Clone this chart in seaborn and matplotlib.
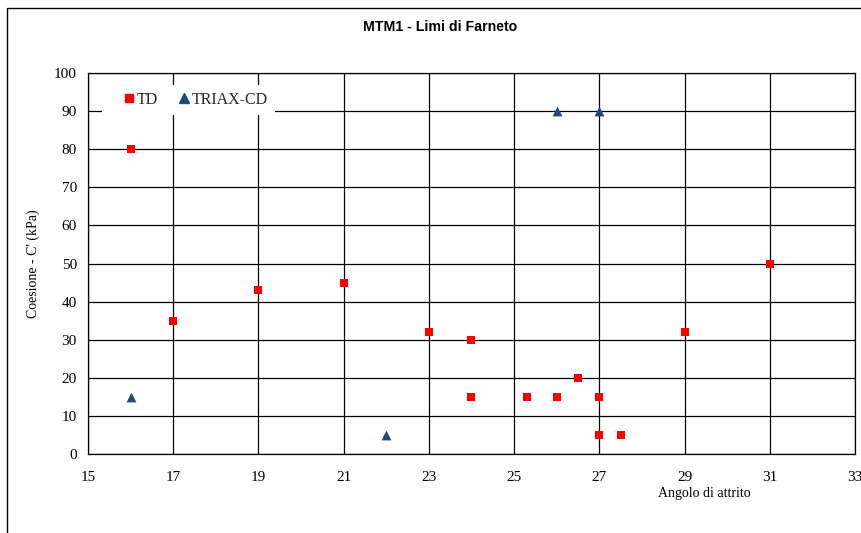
import matplotlib
matplotlib.use("Agg")
import matplotlib.pyplot as plt
import seaborn as sns
import pandas as pd
from matplotlib.patches import Rectangle
from matplotlib.lines import Line2D

# Data
td_x = [16, 17, 19, 21, 23, 24, 24, 25.3, 26, 26.5, 27, 27, 27.5, 29, 31]
td_y = [80, 35, 43, 45, 32, 30, 15, 15, 15, 20, 15, 5, 5, 32, 50]
triax_x = [16, 22, 26, 27]
triax_y = [15, 5, 90, 90]
x_ticks = list(range(15, 34, 2))
y_ticks = list(range(0, 101, 10))
title = "MTM1 - Limi di Farneto"
xlabel = "Angolo di attrito"
ylabel = "Coesione - C' (kPa)"

sns.set_theme(style="white")
plt.rcParams['font.family'] = ['Liberation Serif', 'DejaVu Serif']

W, H = 862, 533
fig = plt.figure(figsize=(W / 100, H / 100), dpi=100)
ax = fig.add_axes([88 / W, 1 - 454 / H, (855 - 88) / W, (454 - 73) / H])

df_td = pd.DataFrame({"x": td_x, "y": td_y})
df_tr = pd.DataFrame({"x": triax_x, "y": triax_y})
sns.scatterplot(data=df_td, x="x", y="y", ax=ax, marker="s", color="#FF0000",
                s=40, linewidth=0, zorder=5)
sns.scatterplot(data=df_tr, x="x", y="y", ax=ax, marker="^", color="#1F497D",
                s=50, linewidth=0, zorder=5)

ax.set_xlim(15, 33)
ax.set_ylim(0, 100)
ax.set_xticks(x_ticks)
ax.set_yticks(y_ticks)
ax.grid(True, color="black", linewidth=0.9)
ax.set_axisbelow(True)
for sp in ax.spines.values():
    sp.set_color("black")
    sp.set_linewidth(0.9)
ax.tick_params(axis="both", direction="out", length=4, width=0.9, color="black",
               labelsize=11, labelcolor="black", pad=4)
ax.tick_params(axis="x", pad=8.5)
ax.set_xlabel("")
ax.set_ylabel(ylabel, fontsize=10, color="black", labelpad=10)

fig.text(704 / W, 1 - 493 / H, xlabel, ha="center", va="center", fontsize=10, color="black")
fig.text(440 / W, 1 - 27 / H, title, ha="center", va="center", fontsize=10.2,
         fontweight="bold", family=["Liberation Sans", "DejaVu Sans"], color="black")

# white legend background box
ax.add_patch(Rectangle(((102 - 88) / 767, (454 - 115) / 381), 173 / 767, 30 / 381,
                       transform=ax.transAxes, facecolor="white", edgecolor="none",
                       zorder=3, clip_on=False))

handles = [
    Line2D([], [], marker="s", color="#FF0000", linestyle="none", markersize=5.5),
    Line2D([], [], marker="^", color="#1F497D", linestyle="none", markersize=7),
]
leg = ax.legend(handles, ["TD", "TRIAX-CD"], loc="center",
                bbox_to_anchor=((194.5 - 88) / 767, (454 - 100) / 381),
                ncol=2, frameon=False, fontsize=11.5,
                handletextpad=0.0, columnspacing=1.1, handlelength=1.0,
                borderpad=0.0, borderaxespad=0)
leg.set_zorder(10)

fig.patches.append(Rectangle((7 / W, -0.05), 1.2, 1 - 8 / H + 0.05,
                             transform=fig.transFigure, fill=False,
                             edgecolor="black", linewidth=1.0))

fig.savefig("out.png", dpi=100)
